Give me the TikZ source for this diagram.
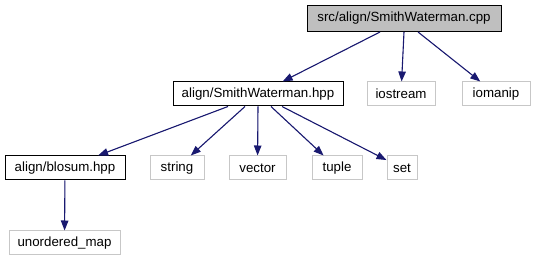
\documentclass[tikz,border=0pt]{standalone}
\usepackage{fontspec}
\setmainfont{Liberation Sans}
\usetikzlibrary{arrows.meta,positioning}
\definecolor{edgeblue}{HTML}{191970}

\begin{document}
\begin{tikzpicture}[x=1pt, y=-1pt,
  obj/.style={draw, minimum height=24pt, inner sep=0pt, line width=1pt, font=\fontsize{13.3}{16}\selectfont},
  root/.style={obj, fill=black!25, minimum height=26pt},
  local/.style={obj},
  ext/.style={obj, draw=black!22},
  arr/.style={-{Triangle[length=10pt,width=7.5pt]}, line width=1.1pt, draw=edgeblue, fill=edgeblue}
]
\useasboundingbox (0,0) rectangle (536,261);

\node[root, minimum width=194pt] (cpp) at (404,18.5) {src/align/SmithWaterman.cpp};

\node[local, minimum width=170pt] (swh) at (258,94) {align/SmithWaterman.hpp};
\node[ext, minimum width=68pt] (iostream) at (401,94) {iostream};
\node[ext, minimum width=68pt] (iomanip) at (496,94) {iomanip};

\node[local, minimum width=120pt] (blosum) at (65,168) {align/blosum.hpp};
\node[ext, minimum width=54pt] (string) at (177,168) {string};
\node[ext, minimum width=57pt] (vector) at (257.5,168) {vector};
\node[ext, minimum width=50pt] (tuple) at (337,168) {tuple};
\node[ext, minimum width=30pt] (set) at (402,168) {set};

\node[ext, minimum width=111pt] (umap) at (64.5,243) {unordered\_map};

\draw[arr] ([xshift=-24pt]cpp.south) -- (swh);
\draw[arr] (cpp.south) -- (iostream);
\draw[arr] ([xshift=14pt]cpp.south) -- (iomanip);

\draw[arr] ([xshift=-30pt]swh.south) -- (blosum);
\draw[arr] ([xshift=-13pt]swh.south) -- (string);
\draw[arr] (swh.south) -- (vector);
\draw[arr] ([xshift=13pt]swh.south) -- (tuple);
\draw[arr] ([xshift=24pt]swh.south) -- (set);

\draw[arr] (blosum) -- (umap);
\end{tikzpicture}
\end{document}
